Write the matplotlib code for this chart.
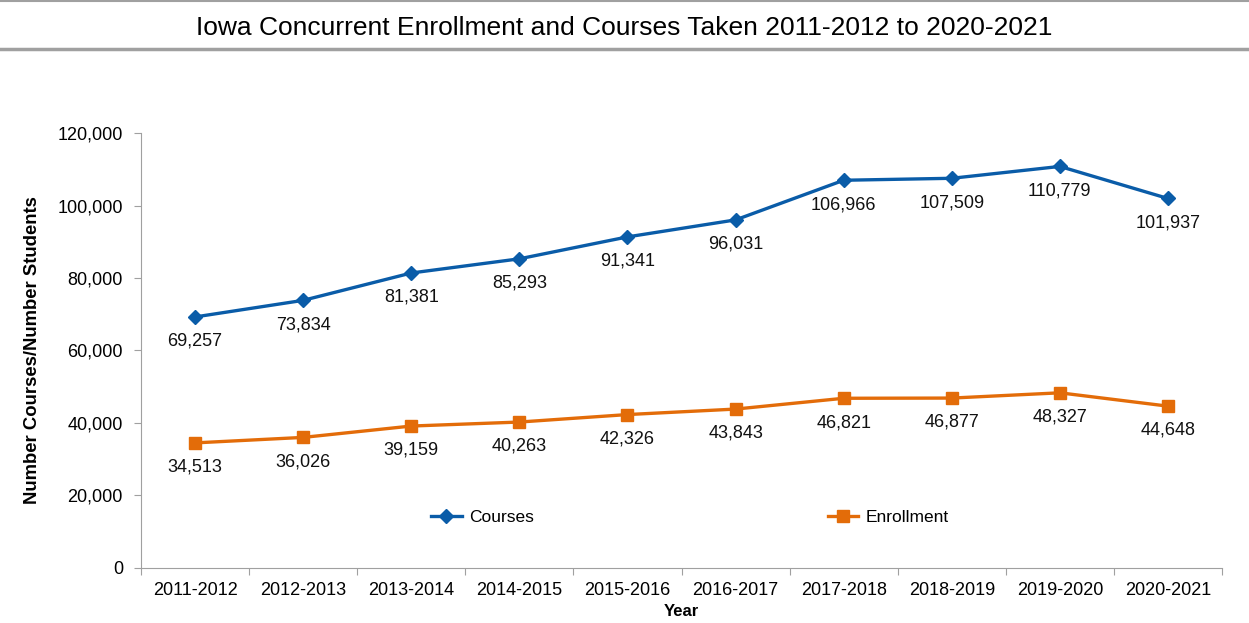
import matplotlib
matplotlib.use("Agg")
from matplotlib import pyplot as plt
from matplotlib.lines import Line2D
from matplotlib.ticker import FuncFormatter

plt.rcParams['font.family'] = ['Liberation Sans', 'DejaVu Sans']

years = ['2011-2012', '2012-2013', '2013-2014', '2014-2015', '2015-2016',
         '2016-2017', '2017-2018', '2018-2019', '2019-2020', '2020-2021']
courses = [69257, 73834, 81381, 85293, 91341, 96031, 106966, 107509, 110779, 101937]
enrollment = [34513, 36026, 39159, 40263, 42326, 43843, 46821, 46877, 48327, 44648]

blue = '#0A5CA8'
orange = '#E36C09'
gray = '#A0A0A0'

fig = plt.figure(figsize=(12.49, 6.23), dpi=100)
ax = fig.add_axes([0.1129, 0.0883, 0.8655, 0.6982])

x = list(range(len(years)))
ax.plot(x, courses, color=blue, lw=2.4, marker='D', ms=7.5, label='Courses')
ax.plot(x, enrollment, color=orange, lw=2.4, marker='s', ms=8.5, label='Enrollment')

for i in x:
    ax.annotate(f'{courses[i]:,}', (i, courses[i]), xytext=(0, -17.5), textcoords='offset points',
                ha='center', va='center', fontsize=13, color='#111111')
    ax.annotate(f'{enrollment[i]:,}', (i, enrollment[i]), xytext=(0, -17.5), textcoords='offset points',
                ha='center', va='center', fontsize=13, color='#111111')

ax.set_xlim(-0.5, len(years) - 0.5)
ax.set_ylim(0, 120000)
ax.set_yticks(range(0, 120001, 20000))
ax.yaxis.set_major_formatter(FuncFormatter(lambda v, p: f'{int(v):,}'))
ax.set_xticks([i - 0.5 for i in range(len(years) + 1)])
ax.set_xticklabels([])
ax.set_xticks(x, minor=True)
ax.set_xticklabels(years, minor=True)
ax.tick_params(axis='x', which='minor', length=0, labelsize=13, pad=10)
ax.tick_params(axis='x', which='major', length=5, color=gray)
ax.tick_params(axis='y', length=5, color=gray, labelsize=13, pad=8)

for s in ['top', 'right']:
    ax.spines[s].set_visible(False)
for s in ['left', 'bottom']:
    ax.spines[s].set_color(gray)

ax.set_ylabel('Number Courses/Number Students', fontsize=13.3, fontweight='bold', labelpad=12)
ax.set_xlabel('Year', fontsize=12, fontweight='bold', labelpad=4)

ax.legend(loc='center', bbox_to_anchor=(0.508, 0.117), ncol=2, frameon=False, fontsize=12.5,
          handlelength=1.75, handletextpad=0.45, columnspacing=16.9)

fig.text(0.5, 0.955, 'Iowa Concurrent Enrollment and Courses Taken 2011-2012 to 2020-2021',
         ha='center', va='center', fontsize=19)
fig.add_artist(Line2D([0, 1], [0.999, 0.999], color=gray, lw=1.5))
fig.add_artist(Line2D([0, 1], [0.922, 0.922], color=gray, lw=2.5))

fig.savefig('out.png', dpi=100)
